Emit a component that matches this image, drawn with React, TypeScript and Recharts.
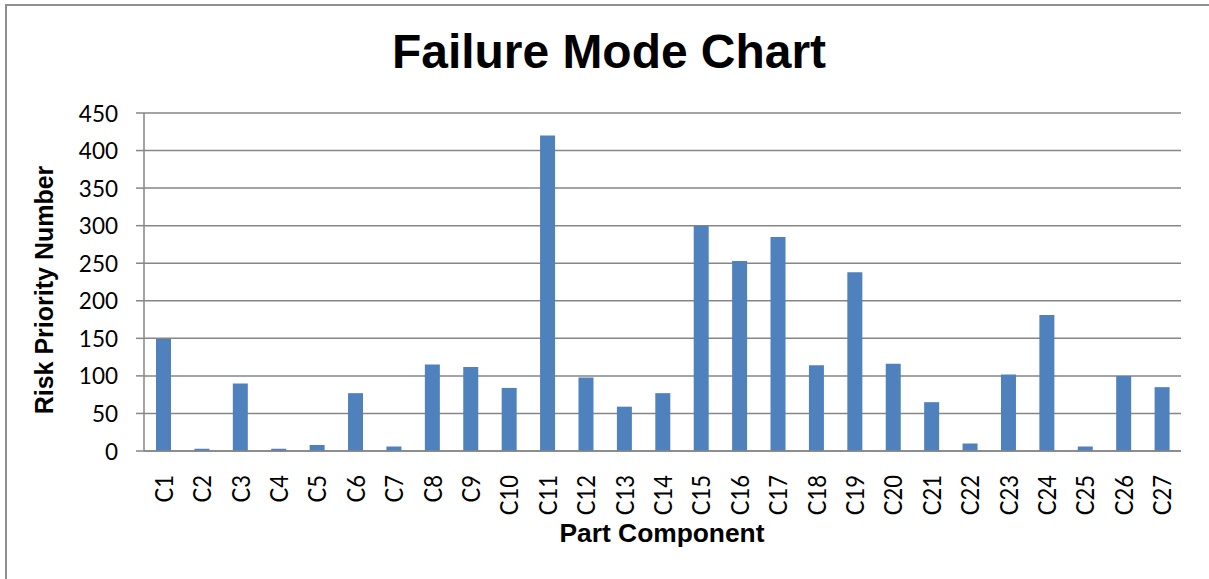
import React from "react";
import { BarChart, Bar, XAxis, YAxis, CartesianGrid } from "recharts";

const categories = ["C1","C2","C3","C4","C5","C6","C7","C8","C9","C10","C11","C12","C13","C14","C15","C16","C17","C18","C19","C20","C21","C22","C23","C24","C25","C26","C27"];
const rpnValues = [149,3,90,3,8,77,6,115,112,84,420,98,59,77,300,253,285,114,238,116,65,10,102,181,6,100,85];
const yTicks = [0,50,100,150,200,250,300,350,400,450];
const chartTitle = "Failure Mode Chart";
const yTitle = "Risk Priority Number";
const xTitle = "Part Component";

const data = categories.map((c, i) => ({ name: c, rpn: rpnValues[i] }));

const GRID = "#868686";

const YTick = (props: any) => {
  const { x, y, payload } = props;
  return (
    <text
      x={x}
      y={y}
      textAnchor="end"
      dominantBaseline="central"
      fontFamily="Lato, 'Open Sans', sans-serif"
      fontSize={22.5}
      fill="#000"
    >
      {payload.value}
    </text>
  );
};

const XTick = (props: any) => {
  const { x, y, payload } = props;
  return (
    <g transform={`translate(${x},${y})`}>
      <text
        x={0}
        y={0}
        transform="scale(1.12,1) rotate(-90)"
        textAnchor="end"
        dominantBaseline="central"
        fontFamily="Lato, 'Open Sans', sans-serif"
        fontSize={22}
        fill="#000"
      >
        {payload.value}
      </text>
    </g>
  );
};

export default function App() {
  return (
    <div style={{ position: "relative", width: 1209, height: 579, overflow: "hidden", background: "#fff" }}>
      <style>{`body{margin:0;}`}</style>
      <div
        style={{
          position: "absolute",
          left: 5,
          top: 4,
          width: 1220,
          height: 600,
          border: "2px solid #8f8f8f",
          boxSizing: "border-box",
        }}
      />
      <div style={{ position: "absolute", left: 0, top: 0 }}>
        <BarChart
          width={1209}
          height={579}
          data={data}
          margin={{ top: 113, right: 28, bottom: 28, left: 0 }}
          barCategoryGap={0}
        >
          <CartesianGrid vertical={false} stroke={GRID} strokeWidth={1.5} />
          <XAxis
            dataKey="name"
            interval={0}
            height={100}
            tickLine={false}
            axisLine={{ stroke: GRID, strokeWidth: 1.5 }}
            tick={<XTick />}
            tickMargin={18}
          />
          <YAxis
            width={144}
            domain={[0, 450]}
            ticks={yTicks}
            interval={0}
            tickSize={8}
            tickMargin={18}
            tickLine={{ stroke: GRID, strokeWidth: 1.5 }}
            axisLine={{ stroke: GRID, strokeWidth: 1.5 }}
            tick={<YTick />}
          />
          <Bar dataKey="rpn" fill="#4f81bd" barSize={15} isAnimationActive={false} />
        </BarChart>
      </div>
      <svg width={1209} height={579} style={{ position: "absolute", left: 0, top: 0, pointerEvents: "none" }}>
        <text
          x={609}
          y={68}
          textAnchor="middle"
          fontFamily="'Liberation Sans', Arial, sans-serif"
          fontWeight="bold"
          fontSize={48}
          textLength={434}
          lengthAdjust="spacingAndGlyphs"
          fill="#000"
        >
          {chartTitle}
        </text>
        <text
          x={0}
          y={0}
          transform="translate(53,290) rotate(-90)"
          textAnchor="middle"
          fontFamily="'Liberation Sans', Arial, sans-serif"
          fontWeight="bold"
          fontSize={25}
          fill="#000"
        >
          {yTitle}
        </text>
        <text
          x={662}
          y={542}
          textAnchor="middle"
          fontFamily="'Liberation Sans', Arial, sans-serif"
          fontWeight="bold"
          fontSize={25}
          textLength={205}
          lengthAdjust="spacingAndGlyphs"
          fill="#000"
        >
          {xTitle}
        </text>
      </svg>
    </div>
  );
}
